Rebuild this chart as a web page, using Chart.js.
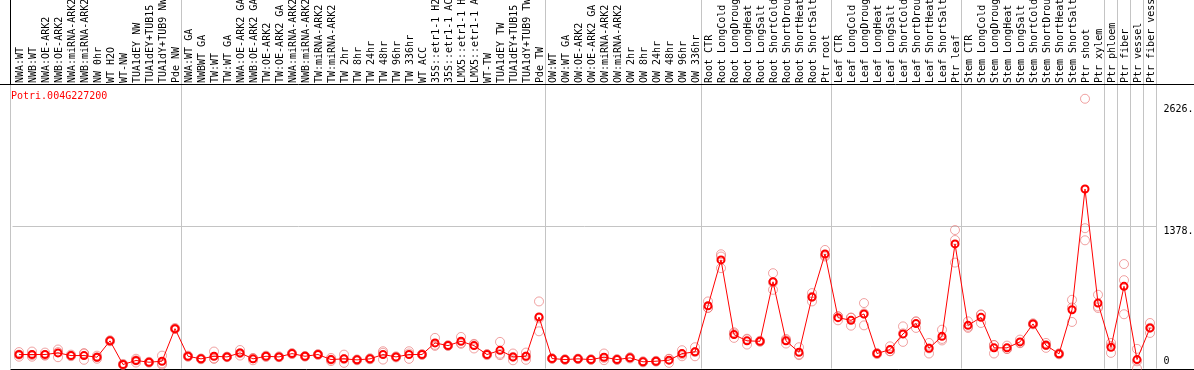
<!DOCTYPE html>
<html>
<head>
<meta charset="utf-8">
<script src="https://cdn.jsdelivr.net/npm/chart.js"></script>
<style>
  html, body { margin: 0; padding: 0; background: #fff; }
  #wrap { width: 1194px; height: 370px; }
</style>
</head>
<body>
<div id="wrap"><canvas id="expr" width="1194" height="370"></canvas></div>
<script>
// gene shown in the plot
const geneName = 'Potri.004G227200';

// sample names, left to right (as far as they are visible)
const samples = [
  'NWA:WT', 'NWB:WT', 'NWA:OE-ARK2', 'NWB:OE-ARK2', 'NWA:miRNA-ARK2', 'NWB:miRNA-ARK2', 'NW 0hr', 'WT H2O', 'WT-NW',
  'TUA1dEY NW', 'TUA1dEY+TUB15', 'TUA1dY+TUB9 NW', 'Pde NW',
  'NWA:WT GA', 'NWBWT GA', 'TW:WT', 'TW:WT GA', 'NWA:OE-ARK2 GA', 'NWB:OE-ARK2 GA', 'TW:OE-ARK2', 'TW:OE-ARK2 GA',
  'NWA:miRNA-ARK2', 'NWB:miRNA-ARK2', 'TW:miRNA-ARK2', 'TW:miRNA-ARK2', 'TW 2hr', 'TW 8hr', 'TW 24hr', 'TW 48hr',
  'TW 96hr', 'TW 336hr', 'WT ACC', '35S::etr1-1 H2', '35S::etr1-1 AC', 'LMX5::etr1-1 H', 'LMX5::etr1-1 A', 'WT-TW',
  'TUA1dEY TW', 'TUA1dEY+TUB15', 'TUA1dY+TUB9 TW', 'Pde TW',
  'OW:WT', 'OW:WT GA', 'OW:OE-ARK2', 'OW:OE-ARK2 GA', 'OW:miRNA-ARK2', 'OW:miRNA-ARK2', 'OW 2hr', 'OW 8hr', 'OW 24hr',
  'OW 48hr', 'OW 96hr', 'OW 336hr',
  'Root CTR', 'Root LongCold', 'Root LongDroug', 'Root LongHeat', 'Root LongSalt', 'Root ShortCold', 'Root ShortDrou',
  'Root ShortHeat', 'Root ShortSalt', 'Ptr root',
  'Leaf CTR', 'Leaf LongCold', 'Leaf LongDroug', 'Leaf LongHeat', 'Leaf LongSalt', 'Leaf ShortCold', 'Leaf ShortDrou',
  'Leaf ShortHeat', 'Leaf ShortSalt', 'Ptr leaf',
  'Stem CTR', 'Stem LongCold', 'Stem LongDroug', 'Stem LongHeat', 'Stem LongSalt', 'Stem ShortCold', 'Stem ShortDrou',
  'Stem ShortHeat', 'Stem ShortSalt', 'Ptr shoot', 'Ptr xylem',
  'Ptr phloem', 'Ptr fiber', 'Ptr vessel', 'Ptr fiber vess'
];

// how many samples in each block between the grey separators
const groupSizes = [13, 28, 12, 10, 10, 11, 1, 1, 1, 1];

// mean expression per sample
const meanExpr = [
  136, 136, 136, 152, 126, 126, 110, 269, 39, 78, 61, 71, 388,
  119, 94, 119, 113, 152, 94, 119, 113, 145, 119, 136, 87, 94, 84, 94, 136, 113, 136, 136, 249, 223, 265, 223, 136, 177, 113, 119, 501,
  97, 87, 94, 87, 110, 87, 104, 65, 71, 81, 145, 162,
  611, 1057, 330, 269, 265, 844, 269, 158, 695, 1115,
  495, 469, 531, 146, 184, 337, 437, 197, 313, 1213,
  420, 498, 201, 201, 259, 434, 226, 143, 572, 1747, 637,
  207, 800, 87, 395
];

// the three replicates
const rep1 = [
  160, 165, 155, 185, 135, 150, 125, 275, 45, 95, 65, 125, 395,
  125, 95, 165, 115, 180, 100, 125, 118, 150, 122, 140, 103, 135, 88, 100, 168, 118, 168, 140, 298, 225, 307, 240, 140, 259, 146, 155, 653,
  100, 90, 96, 90, 146, 92, 110, 70, 75, 55, 178, 207,
  653, 1112, 352, 233, 270, 928, 288, 207, 734, 1154,
  469, 417, 637, 150, 216, 410, 459, 249, 378, 1348,
  459, 524, 146, 223, 281, 440, 249, 148, 669, 2626, 718,
  249, 1017, 191, 443
];
const rep2 = [
  135, 130, 125, 160, 120, 145, 110, 265, 35, 80, 58, 50, 385,
  115, 90, 95, 110, 150, 80, 112, 110, 140, 117, 132, 72, 55, 80, 90, 87, 108, 94, 132, 230, 220, 240, 195, 130, 143, 80, 85, 362,
  95, 84, 92, 84, 81, 83, 98, 60, 68, 95, 119, 119,
  589, 1090, 298, 290, 262, 766, 243, 130, 653, 1090,
  508, 495, 420, 140, 168, 259, 395, 146, 288, 1251,
  395, 443, 228, 190, 250, 430, 201, 138, 453, 1366, 589,
  152, 860, 0, 346
];
const rep3 = [
  115, 115, 130, 110, 125, 85, 95, 268, 38, 58, 60, 38, 385,
  118, 97, 97, 114, 126, 102, 120, 111, 145, 118, 136, 86, 92, 84, 92, 153, 113, 146, 136, 220, 224, 248, 234, 138, 130, 113, 117, 488,
  96, 87, 94, 87, 103, 86, 104, 65, 70, 93, 138, 160,
  591, 977, 340, 284, 263, 838, 276, 137, 698, 1101,
  508, 495, 536, 148, 168, 342, 457, 196, 273, 1031,
  406, 527, 229, 190, 246, 432, 228, 143, 594, 1248, 604,
  220, 528, 70, 396
];

// y axis labels and range
const yTicks = [0, 1378, 2626];
const yTickText = ['0', '1378.', '2626.'];
const yMax = 2760;

const monoFont = 'DejaVu Sans Mono';
const repColor = 'rgba(230, 100, 100, 0.6)';

// grey separators, black frame, gene name and the y labels on the right
const framePlugin = {
  id: 'frame',
  beforeDatasetsDraw(chart) {
    const ctx = chart.ctx;
    const area = chart.chartArea;
    const x = chart.scales.x;
    const band = (x.right - x.left) / samples.length;
    ctx.save();
    ctx.lineWidth = 1;
    ctx.strokeStyle = '#c4c4c4';
    let count = 0;
    const edges = [];
    groupSizes.forEach(n => {
      count += n;
      edges.push(Math.round(x.left + count * band) - 0.5);
    });
    edges.forEach(px => {
      ctx.beginPath();
      ctx.moveTo(px, 0);
      ctx.lineTo(px, area.bottom);
      ctx.stroke();
    });
    // left border: grey in the plot, black in the label strip
    const leftX = Math.round(area.left) - 2.5;
    ctx.beginPath();
    ctx.moveTo(leftX, area.top);
    ctx.lineTo(leftX, area.bottom);
    ctx.stroke();
    ctx.strokeStyle = '#000';
    ctx.beginPath();
    ctx.moveTo(leftX, 0);
    ctx.lineTo(leftX, area.top);
    ctx.stroke();
    ctx.beginPath();
    ctx.moveTo(0, Math.round(area.top) - 0.5);
    ctx.lineTo(chart.width, Math.round(area.top) - 0.5);
    ctx.stroke();
    ctx.beginPath();
    ctx.moveTo(leftX, Math.round(area.bottom) + 0.5);
    ctx.lineTo(chart.width, Math.round(area.bottom) + 0.5);
    ctx.stroke();
    ctx.restore();
  },
  afterDraw(chart) {
    const ctx = chart.ctx;
    const area = chart.chartArea;
    const y = chart.scales.y;
    ctx.save();
    ctx.font = '10px "' + monoFont + '"';
    ctx.textBaseline = 'middle';
    ctx.textAlign = 'left';
    ctx.fillStyle = '#ff0000';
    ctx.fillText(geneName, Math.round(area.left) - 2, area.top + 11);
    ctx.fillStyle = '#000';
    const shift = [-7, 4, 11];
    yTicks.forEach((v, i) => {
      ctx.fillText(yTickText[i], area.right + 7, y.getPixelForValue(v) + shift[i]);
    });
    ctx.restore();
  }
};

function repSet(values) {
  return {
    data: values,
    showLine: false,
    pointStyle: 'circle',
    pointRadius: 4.5,
    pointBorderWidth: 1,
    pointBorderColor: repColor,
    pointBackgroundColor: 'rgba(0,0,0,0)',
    clip: 6
  };
}

// drop the label overhang paddings so the plot fills the frame exactly
function noPadding(scale) {
  scale.paddingTop = 0;
  scale.paddingBottom = 0;
  scale.paddingLeft = 0;
  scale.paddingRight = 0;
}

const ctx = document.getElementById('expr').getContext('2d');
const exprChart = new Chart(ctx, {
  type: 'line',
  data: {
    labels: samples,
    datasets: [
      {
        data: meanExpr,
        borderColor: '#ff0000',
        borderWidth: 1,
        pointStyle: 'circle',
        pointRadius: 3.5,
        pointBorderWidth: 2,
        pointBorderColor: '#ff0000',
        pointBackgroundColor: 'rgba(0,0,0,0)',
        tension: 0,
        clip: 6
      },
      repSet(rep1),
      repSet(rep2),
      repSet(rep3)
    ]
  },
  options: {
    responsive: false,
    animation: false,
    devicePixelRatio: 1,
    layout: { autoPadding: false, padding: { left: 12.5, right: 0, top: 0, bottom: 1.5 } },
    plugins: {
      legend: { display: false },
      title: { display: false },
      tooltip: { enabled: false }
    },
    scales: {
      x: {
        type: 'category',
        position: 'top',
        offset: true,
        grid: { display: false, drawTicks: false },
        border: { display: false },
        ticks: {
          autoSkip: false,
          minRotation: 90,
          maxRotation: 90,
          padding: 2,
          labelOffset: 13,
          color: '#000',
          font: { family: monoFont, size: 10 }
        },
        afterFit(scale) { scale.height = 85; noPadding(scale); }
      },
      y: {
        position: 'right',
        min: 0,
        max: yMax,
        afterBuildTicks(scale) { scale.ticks = yTicks.map(v => ({ value: v })); },
        grid: {
          drawTicks: false,
          color: c => (c.tick && c.tick.value === yTicks[1]) ? '#c4c4c4' : 'rgba(0,0,0,0)'
        },
        border: { display: false },
        ticks: { display: false },
        afterFit(scale) { scale.width = 37.5; noPadding(scale); }
      }
    }
  },
  plugins: [framePlugin]
});
</script>
</body>
</html>
